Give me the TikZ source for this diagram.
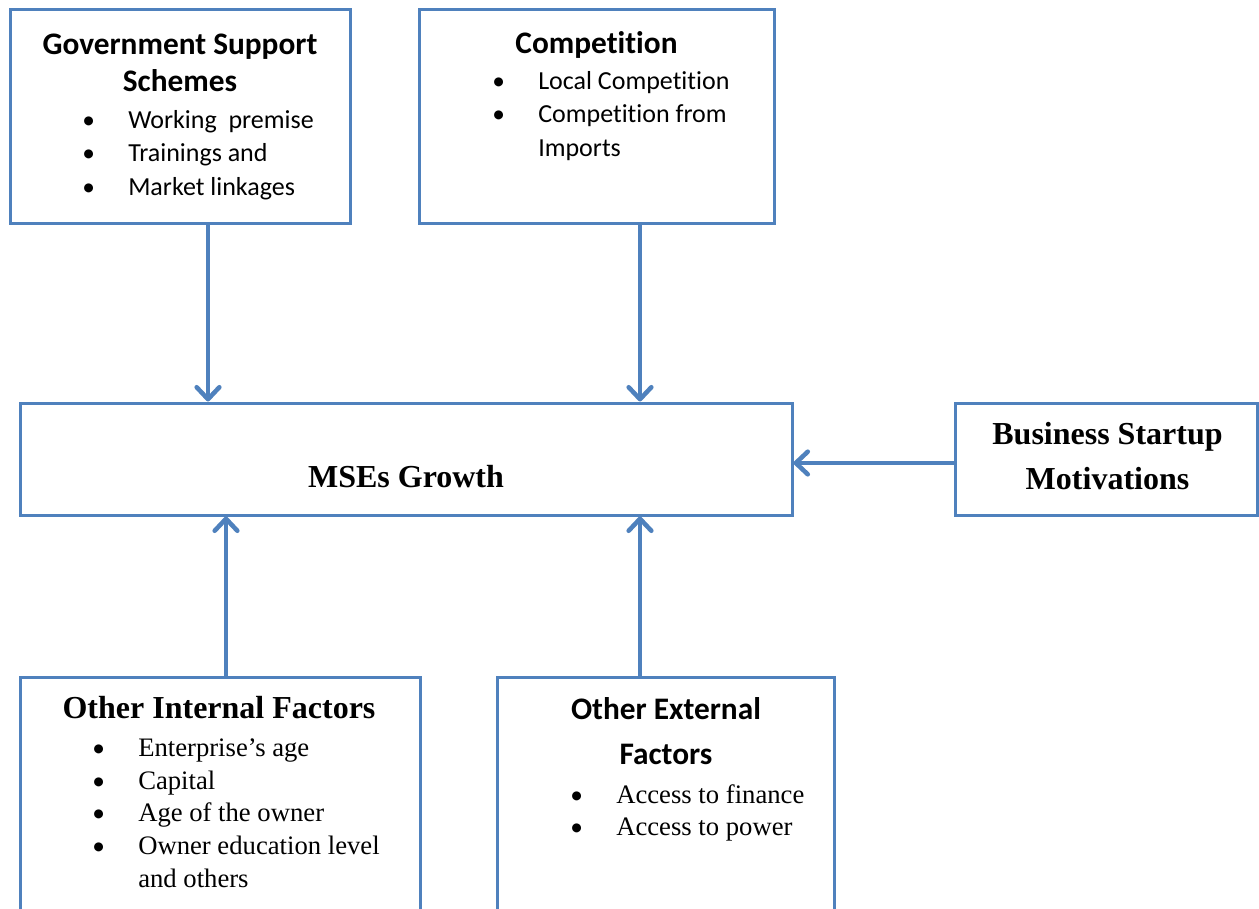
\documentclass[tikz,border=0pt]{standalone}
\usepackage{fontspec}
\setmainfont{Liberation Serif}
\newfontfamily\carlito[Ligatures=NoCommon]{Carlito}
\usepackage{tikz}
\usetikzlibrary{arrows.meta, positioning, calc}
\definecolor{boxblue}{RGB}{79, 129, 189}
\newcommand{\bitem}{\makebox[34.5pt][l]{\carlito\fontsize{19}{19}\selectfont\textbullet}}
\newcommand{\bgap}{\makebox[34.5pt]{}}

\begin{document}
\begin{tikzpicture}[
    x=0.75pt, y=-0.75pt,
    factor/.style={draw=boxblue, line width=2.25pt, inner sep=0pt},
    link/.style={draw=boxblue, line width=3.4pt, 
                 -{Straight Barb[length=9pt, width=17pt, round]}},
    cbhead/.style={font=\carlito\bfseries\fontsize{23.5}{27.75}\selectfont, 
                   align=center, inner sep=0pt},
    cblist/.style={font=\carlito\fontsize{19.5}{25}\selectfont, 
                   align=left, inner sep=0pt, anchor=west},
    tmhead/.style={font=\bfseries\fontsize{24}{34}\selectfont, 
                   align=center, inner sep=0pt},
    tmlist/.style={font=\fontsize{20}{24.5}\selectfont, 
                   align=left, inner sep=0pt, anchor=west}
]
    \useasboundingbox (0,0) rectangle (1259,909);
    \clip (0,0) rectangle (1259,909);

    % ==================== TOP BOXES ====================
    \node[factor, minimum width=255pt, minimum height=160.5pt] (gov) at (180,117) {};
    \node[cbhead] (govtitle) at (180,63) {Government Support\\Schemes};
    \node[cblist] (govlist) at (82,155) {\bitem Working\ \ premise\\
        \bitem Trainings and\\\bitem Market linkages};

    \node[factor, minimum width=266.25pt, minimum height=160.5pt] (comp) at (596.5,117) {};
    \node[cbhead] (comptitle) at (596.5,45) {Competition};
    \node[cblist] (complist) at (492,116) {\bitem Local Competition\\
        \bitem Competition from\\\bgap Imports};

    % ==================== MIDDLE BOXES ====================
    \node[factor, minimum width=579pt, minimum height=84pt] (mse) at (406,459) {};
    \node[tmhead] (msetitle) at (406,477) {MSEs Growth};

    \node[factor, minimum width=226.5pt, minimum height=84pt] (biz) at (1106,459) {};
    \node[tmhead] (biztitle) at (1107.5,456) {Business Startup\\Motivations};

    % ==================== BOTTOM BOXES ====================
    \node[factor, minimum width=300pt, minimum height=197.25pt] (intern) at (220,808.5) {};
    \node[tmhead] (interntitle) at (219,708) {Other Internal Factors};
    \node[tmlist] (internlist) at (92,813) {\bitem Enterprise's age\\
        \bitem Capital\\\bitem Age of the owner\\
        \bitem Owner education level\\\bgap and others};

    \node[factor, minimum width=252.75pt, minimum height=197.25pt] (extern) at (665.5,808.5) {};
    \node[cbhead, font=\carlito\bfseries\fontsize{23.5}{34}\selectfont] 
        (externtitle) at (666,731) {Other External\\Factors};
    \node[tmlist] (externlist) at (570,813) {\bitem Access to finance\\
        \bitem Access to power};

    % ==================== LINKS ====================
    \coordinate (govout) at ($(gov.south)+(28,0)$);
    \coordinate (compout) at ($(comp.south)+(43.5,0)$);
    \coordinate (bizout) at ($(biz.west)+(0,4)$);
    \coordinate (internout) at ($(intern.north)+(6,0)$);
    \coordinate (externout) at ($(extern.north)+(-25.5,0)$);

    \draw[link] (govout) -- (govout |- mse.north);
    \draw[link] (compout) -- (compout |- mse.north);
    \draw[link] (bizout) -- (bizout -| mse.east);
    \draw[link] (internout) -- (internout |- mse.south);
    \draw[link] (externout) -- (externout |- mse.south);
\end{tikzpicture}
\end{document}
